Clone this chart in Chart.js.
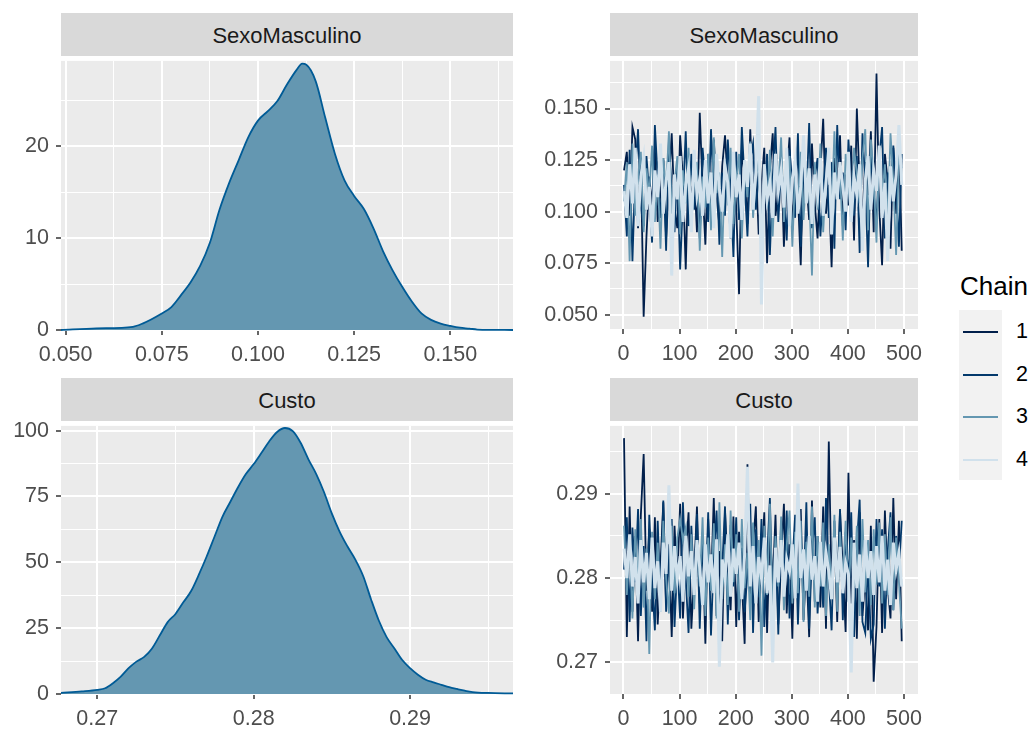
<!DOCTYPE html>
<html>
<head>
<meta charset="utf-8">
<script src="https://cdn.jsdelivr.net/npm/chart.js@4.4.0/dist/chart.umd.min.js"></script>
<style>
  body { margin: 0; background: #fff; width: 1035px; height: 731px; position: relative; overflow: hidden;
         font-family: "Liberation Sans", Arial, sans-serif; }
  canvas { position: absolute; }
  .strip { position: absolute; background: #d9d9d9; color: #1a1a1a; font-size: 22px; text-align: center; z-index: 2; }
  .legTitle { position: absolute; left: 960px; top: 271px; font-size: 26px; color: #000; }
  .legKeys { position: absolute; left: 959px; top: 310px; width: 43px; height: 170px; background: #f2f2f2; }
  .legLine { position: absolute; left: 963px; width: 35px; height: 2px; }
  .legLab { position: absolute; left: 1016px; font-size: 21.5px; color: #000; }
</style>
</head>
<body>
<div class="strip" style="left:61px;top:13px;width:452px;height:43px;line-height:45px;">SexoMasculino</div>
<div class="strip" style="left:610px;top:13px;width:308px;height:43px;line-height:45px;">SexoMasculino</div>
<div class="strip" style="left:61px;top:378px;width:452px;height:43px;line-height:45px;">Custo</div>
<div class="strip" style="left:610px;top:378px;width:308px;height:43px;line-height:45px;">Custo</div>

<canvas id="densSexo" width="520" height="329" style="left:0;top:41px;"></canvas>
<canvas id="traceSexo" width="410" height="328" style="left:530px;top:41px;"></canvas>
<canvas id="densCusto" width="520" height="325" style="left:0;top:406px;"></canvas>
<canvas id="traceCusto" width="410" height="325" style="left:530px;top:406px;"></canvas>

<div class="legTitle">Chain</div>
<div class="legKeys"></div>
<div id="legend"></div>

<script>
// chain colours (bayesplot "blue" scheme)
const chainColors = ["#011f4b", "#03396c", "#6497b1", "#d1e1ec"];
const chainWidths = [1.8, 1.8, 1.8, 3];
const chainNames = ["1", "2", "3", "4"];

// density of SexoMasculino
const sexoDensX = [0.0488, 0.058, 0.0675, 0.070, 0.075, 0.0775, 0.080, 0.0825, 0.085, 0.0875, 0.090, 0.0925,
  0.095, 0.0975, 0.100, 0.1025, 0.105, 0.1075, 0.110, 0.1115, 0.1125, 0.115, 0.1175, 0.120, 0.1225, 0.125,
  0.1275, 0.130, 0.1325, 0.135, 0.1375, 0.140, 0.1425, 0.145, 0.1475, 0.150, 0.1525, 0.155, 0.157, 0.1663];
const sexoDensY = [0, 0.18, 0.35, 0.7, 1.8, 2.5, 3.8, 5.2, 7.0, 9.5, 13.1, 16.0,
  18.5, 21.0, 22.8, 23.8, 24.9, 26.7, 28.3, 29.0, 28.9, 27.1, 23.1, 19.2, 16.3, 14.6,
  13.2, 11.1, 8.6, 6.5, 4.7, 3.1, 1.8, 1.1, 0.7, 0.45, 0.25, 0.15, 0.05, 0];

// density of Custo
const custoDensX = [0.26768, 0.269, 0.270, 0.2705, 0.271, 0.2715, 0.272, 0.2725, 0.273, 0.2735, 0.274, 0.2745,
  0.275, 0.2755, 0.276, 0.2765, 0.277, 0.2775, 0.278, 0.2785, 0.279, 0.2795, 0.280, 0.2805, 0.281, 0.2815,
  0.282, 0.2825, 0.283, 0.2835, 0.284, 0.2845, 0.285, 0.2855, 0.286, 0.2865, 0.287, 0.2875, 0.288, 0.2885,
  0.289, 0.2895, 0.290, 0.2905, 0.291, 0.2915, 0.292, 0.2925, 0.293, 0.2935, 0.294, 0.295, 0.29658];
const custoDensY = [0.4, 1.0, 1.6, 2.2, 4.1, 6.6, 9.8, 12.3, 14.1, 17.3, 22.3, 27.3,
  30.4, 34.8, 39.1, 45.4, 52.3, 59.8, 67.3, 72.9, 78.5, 83.5, 87.3, 91.6, 96.0, 99.5,
  101.0, 99.8, 95.4, 89.1, 83.5, 76.6, 68.5, 61.6, 56.0, 51.0, 44.8, 36.0, 27.9, 21.6,
  17.3, 12.9, 9.8, 7.3, 5.4, 4.4, 3.5, 2.6, 1.9, 1.25, 0.75, 0.4, 0.2];

// trace draws, thinned: one value every 5 iterations
const iterStart = 1;
const iterStep = 5;

const sexoChain1 = [0.120, 0.129, 0.098, 0.141, 0.135, 0.092, 0.124, 0.049, 0.088, 0.117,
  0.103, 0.131, 0.095, 0.109, 0.126, 0.087, 0.113, 0.138, 0.101, 0.092,
  0.137, 0.116, 0.072, 0.124, 0.106, 0.119, 0.090, 0.148, 0.112, 0.084,
  0.128, 0.099, 0.135, 0.108, 0.093, 0.122, 0.137, 0.114, 0.087, 0.126,
  0.102, 0.060, 0.130, 0.118, 0.094, 0.140, 0.107, 0.124, 0.089, 0.113,
  0.131, 0.075, 0.120, 0.138, 0.098, 0.110, 0.127, 0.083, 0.117, 0.136,
  0.091, 0.123, 0.108, 0.074, 0.129, 0.115, 0.096, 0.133, 0.104, 0.087,
  0.120, 0.145, 0.099, 0.113, 0.073, 0.126, 0.110, 0.137, 0.093, 0.118,
  0.103, 0.132, 0.086, 0.150, 0.112, 0.097, 0.124, 0.108, 0.139, 0.090,
  0.167, 0.102, 0.074, 0.128, 0.115, 0.082, 0.131, 0.099, 0.137, 0.081];
const sexoChain2 = [0.113, 0.088, 0.130, 0.076, 0.119, 0.140, 0.102, 0.093, 0.127, 0.108,
  0.085, 0.142, 0.116, 0.097, 0.125, 0.081, 0.134, 0.110, 0.090, 0.122,
  0.072, 0.106, 0.139, 0.093, 0.128, 0.101, 0.117, 0.087, 0.131, 0.114,
  0.095, 0.140, 0.108, 0.123, 0.084, 0.119, 0.098, 0.135, 0.111, 0.078,
  0.129, 0.096, 0.141, 0.114, 0.088, 0.125, 0.133, 0.101, 0.119, 0.092,
  0.106, 0.128, 0.079, 0.116, 0.141, 0.095, 0.122, 0.109, 0.086, 0.130,
  0.113, 0.097, 0.138, 0.083, 0.121, 0.105, 0.143, 0.092, 0.117, 0.126,
  0.088, 0.110, 0.131, 0.097, 0.124, 0.082, 0.142, 0.106, 0.119, 0.091,
  0.135, 0.112, 0.098, 0.127, 0.080, 0.138, 0.115, 0.073, 0.130, 0.109,
  0.095, 0.126, 0.141, 0.087, 0.119, 0.104, 0.132, 0.113, 0.083, 0.128];
const sexoChain3 = [0.105, 0.124, 0.076, 0.133, 0.098, 0.116, 0.129, 0.090, 0.121, 0.108,
  0.132, 0.095, 0.118, 0.082, 0.126, 0.111, 0.139, 0.099, 0.114, 0.127,
  0.089, 0.120, 0.104, 0.131, 0.096, 0.113, 0.124, 0.081, 0.117, 0.102,
  0.128, 0.091, 0.136, 0.109, 0.119, 0.078, 0.125, 0.103, 0.131, 0.094,
  0.115, 0.128, 0.087, 0.121, 0.107, 0.134, 0.097, 0.116, 0.125, 0.092,
  0.119, 0.102, 0.130, 0.088, 0.123, 0.111, 0.136, 0.095, 0.115, 0.127,
  0.083, 0.118, 0.105, 0.129, 0.096, 0.121, 0.110, 0.069, 0.124, 0.101,
  0.133, 0.090, 0.117, 0.126, 0.099, 0.139, 0.108, 0.120, 0.086, 0.128,
  0.112, 0.095, 0.131, 0.118, 0.104, 0.126, 0.140, 0.091, 0.135, 0.117,
  0.085, 0.130, 0.107, 0.123, 0.094, 0.138, 0.115, 0.079, 0.126, 0.121];
const sexoChain4 = [0.110, 0.097, 0.123, 0.104, 0.131, 0.093, 0.117, 0.126, 0.101, 0.112,
  0.088, 0.120, 0.107, 0.133, 0.099, 0.115, 0.124, 0.069, 0.118, 0.106,
  0.127, 0.095, 0.113, 0.121, 0.090, 0.130, 0.108, 0.116, 0.098, 0.125,
  0.104, 0.119, 0.092, 0.128, 0.111, 0.100, 0.122, 0.114, 0.087, 0.129,
  0.107, 0.118, 0.096, 0.125, 0.112, 0.133, 0.101, 0.119, 0.156, 0.055,
  0.123, 0.106, 0.114, 0.097, 0.128, 0.110, 0.120, 0.102, 0.131, 0.093,
  0.116, 0.125, 0.099, 0.112, 0.137, 0.104, 0.121, 0.094, 0.118, 0.108,
  0.126, 0.098, 0.114, 0.131, 0.089, 0.119, 0.106, 0.124, 0.112, 0.100,
  0.129, 0.095, 0.117, 0.108, 0.123, 0.081, 0.115, 0.127, 0.101, 0.120,
  0.110, 0.132, 0.097, 0.114, 0.076, 0.122, 0.105, 0.118, 0.142, 0.113];

const custoChain1 = [0.2966, 0.2730, 0.2885, 0.2760, 0.2850, 0.2725, 0.2875, 0.2947, 0.2785, 0.2858,
  0.2760, 0.2872, 0.2745, 0.2815, 0.2890, 0.2768, 0.2840, 0.2730, 0.2862, 0.2795,
  0.2888, 0.2752, 0.2828, 0.2878, 0.2740, 0.2805, 0.2885, 0.2770, 0.2848, 0.2722,
  0.2870, 0.2790, 0.2895, 0.2755, 0.2832, 0.2725, 0.2880, 0.2810, 0.2762, 0.2873,
  0.2742, 0.2855, 0.2798, 0.2722, 0.2935, 0.2770, 0.2838, 0.2885, 0.2748, 0.2812,
  0.2878, 0.2735, 0.2860, 0.2790, 0.2875, 0.2745, 0.2820, 0.2888, 0.2758, 0.2840,
  0.2728, 0.2868, 0.2800, 0.2882, 0.2750, 0.2818, 0.2730, 0.2892, 0.2772, 0.2850,
  0.2765, 0.2885, 0.2740, 0.2962, 0.2790, 0.2858, 0.2748, 0.2880, 0.2812, 0.2736,
  0.2925, 0.2770, 0.2845, 0.2728, 0.2878, 0.2755, 0.2800, 0.2738, 0.2862, 0.2677,
  0.2742, 0.2870, 0.2735, 0.2880, 0.2790, 0.2752, 0.2895, 0.2775, 0.2868, 0.2725];
const custoChain2 = [0.2810, 0.2872, 0.2748, 0.2860, 0.2795, 0.2882, 0.2755, 0.2838, 0.2725, 0.2875,
  0.2798, 0.2738, 0.2868, 0.2775, 0.2892, 0.2760, 0.2830, 0.2870, 0.2742, 0.2818,
  0.2752, 0.2890, 0.2800, 0.2735, 0.2862, 0.2785, 0.2876, 0.2740, 0.2850, 0.2768,
  0.2878, 0.2732, 0.2826, 0.2880, 0.2758, 0.2812, 0.2885, 0.2745, 0.2863, 0.2790,
  0.2872, 0.2750, 0.2836, 0.2760, 0.2806, 0.2888, 0.2735, 0.2858, 0.2778, 0.2870,
  0.2742, 0.2822, 0.2895, 0.2762, 0.2850, 0.2733, 0.2868, 0.2792, 0.2880, 0.2752,
  0.2815, 0.2875, 0.2745, 0.2852, 0.2780, 0.2890, 0.2740, 0.2830, 0.2872, 0.2758,
  0.2822, 0.2765, 0.2895, 0.2800, 0.2738, 0.2868, 0.2785, 0.2882, 0.2750, 0.2855,
  0.2795, 0.2878, 0.2730, 0.2840, 0.2893, 0.2748, 0.2735, 0.2820, 0.2728, 0.2745,
  0.2870, 0.2790, 0.2858, 0.2740, 0.2832, 0.2878, 0.2762, 0.2850, 0.2808, 0.2868];
const custoChain3 = [0.2862, 0.2780, 0.2845, 0.2752, 0.2858, 0.2790, 0.2870, 0.2765, 0.2835, 0.2710,
  0.2855, 0.2775, 0.2842, 0.2760, 0.2868, 0.2800, 0.2758, 0.2862, 0.2782, 0.2848,
  0.2870, 0.2845, 0.2860, 0.2778, 0.2852, 0.2763, 0.2838, 0.2790, 0.2872, 0.2755,
  0.2848, 0.2785, 0.2865, 0.2752, 0.2890, 0.2775, 0.2840, 0.2768, 0.2880, 0.2795,
  0.2852, 0.2760, 0.2870, 0.2788, 0.2830, 0.2750, 0.2866, 0.2795, 0.2845, 0.2708,
  0.2862, 0.2780, 0.2888, 0.2758, 0.2850, 0.2790, 0.2873, 0.2762, 0.2838, 0.2880,
  0.2770, 0.2855, 0.2782, 0.2868, 0.2748, 0.2843, 0.2778, 0.2885, 0.2765, 0.2850,
  0.2790, 0.2866, 0.2755, 0.2840, 0.2785, 0.2875, 0.2760, 0.2855, 0.2795, 0.2868,
  0.2772, 0.2848, 0.2790, 0.2862, 0.2755, 0.2870, 0.2783, 0.2845, 0.2768, 0.2858,
  0.2792, 0.2866, 0.2770, 0.2852, 0.2780, 0.2872, 0.2762, 0.2848, 0.2795, 0.2740];
const custoChain4 = [0.2835, 0.2800, 0.2852, 0.2790, 0.2825, 0.2770, 0.2845, 0.2795, 0.2830, 0.2775,
  0.2848, 0.2788, 0.2820, 0.2760, 0.2842, 0.2805, 0.2910, 0.2785, 0.2838, 0.2798,
  0.2826, 0.2772, 0.2850, 0.2802, 0.2832, 0.2780, 0.2845, 0.2812, 0.2768, 0.2840,
  0.2795, 0.2828, 0.2782, 0.2846, 0.2695, 0.2822, 0.2800, 0.2852, 0.2778, 0.2835,
  0.2805, 0.2842, 0.2775, 0.2828, 0.2932, 0.2790, 0.2838, 0.2770, 0.2825, 0.2800,
  0.2848, 0.2782, 0.2815, 0.2700, 0.2836, 0.2795, 0.2845, 0.2778, 0.2822, 0.2808,
  0.2840, 0.2776, 0.2912, 0.2800, 0.2834, 0.2785, 0.2850, 0.2798, 0.2826, 0.2772,
  0.2843, 0.2790, 0.2830, 0.2808, 0.2775, 0.2848, 0.2795, 0.2837, 0.2782, 0.2818,
  0.2805, 0.2688, 0.2842, 0.2788, 0.2828, 0.2772, 0.2845, 0.2800, 0.2832, 0.2780,
  0.2838, 0.2795, 0.2850, 0.2785, 0.2822, 0.2768, 0.2842, 0.2810, 0.2830, 0.2790];

// axis ticks (major get labels, minor only grid lines)
const sexoValMajor = [0.050, 0.075, 0.100, 0.125, 0.150];
const sexoValMinor = [0.0625, 0.0875, 0.1125, 0.1375, 0.1625];
const sexoDensMajor = [0, 10, 20];
const sexoDensMinor = [5, 15, 25];
const custoValMajor = [0.27, 0.28, 0.29];
const custoValMinor = [0.275, 0.285, 0.295];
const custoDensMajor = [0, 25, 50, 75, 100];
const custoDensMinor = [12.5, 37.5, 62.5, 87.5];
const iterMajor = [0, 100, 200, 300, 400, 500];
const iterMinor = [50, 150, 250, 350, 450];

const FONT = '"Liberation Sans", Arial, sans-serif';

const panelBg = {
  id: 'panelBg',
  beforeDraw(chart) {
    const a = chart.chartArea, c = chart.ctx;
    c.save();
    c.fillStyle = '#ebebeb';
    c.fillRect(a.left, a.top, a.right - a.left, a.bottom - a.top);
    c.restore();
  }
};

function axis(min, max, major, minor, fmt, isX, size) {
  return {
    type: 'linear', min: min, max: max,
    afterBuildTicks: ax => {
      ax.ticks = major.map(v => ({ value: v, minor: false }))
        .concat(minor.map(v => ({ value: v, minor: true })))
        .sort((a, b) => a.value - b.value);
    },
    afterFit: ax => { if (isX) ax.height = size; else ax.width = size; },
    border: { display: false },
    grid: {
      color: '#ffffff',
      lineWidth: c => (c.tick && c.tick.minor) ? 1 : 2,
      drawTicks: true,
      tickLength: 5,
      tickWidth: 1.5,
      tickColor: c => (c.tick && c.tick.minor) ? 'rgba(0,0,0,0)' : '#333333'
    },
    ticks: {
      autoSkip: false, maxRotation: 0, minRotation: 0, padding: 7,
      color: '#4d4d4d', font: { family: FONT, size: 21.5 },
      callback: (v, i, t) => t[i].minor ? '' : fmt(v)
    }
  };
}

function baseOptions(xAx, yAx, pad) {
  return {
    responsive: false, animation: false, events: [],
    layout: { padding: pad },
    plugins: { legend: { display: false }, tooltip: { enabled: false } },
    scales: { x: xAx, y: yAx }
  };
}

function densityChart(id, xs, ys, xAx, yAx, pad) {
  return new Chart(document.getElementById(id), {
    type: 'line',
    data: {
      datasets: [{
        data: xs.map((x, i) => ({ x: x, y: ys[i] })),
        borderColor: '#005b96',
        backgroundColor: '#6497b1',
        borderWidth: 1.8,
        fill: 'origin',
        pointRadius: 0,
        cubicInterpolationMode: 'monotone',
        clip: 3
      }]
    },
    options: baseOptions(xAx, yAx, pad),
    plugins: [panelBg]
  });
}

function traceChart(id, chains, xAx, yAx, pad) {
  return new Chart(document.getElementById(id), {
    type: 'line',
    data: {
      datasets: chains.map((vals, k) => ({
        label: chainNames[k],
        data: vals.map((y, i) => ({ x: iterStart + i * iterStep, y: y })),
        borderColor: chainColors[k],
        borderWidth: chainWidths[k],
        borderJoinStyle: 'miter',
        pointRadius: 0,
        fill: false,
        order: chains.length - k
      }))
    },
    options: baseOptions(xAx, yAx, pad),
    plugins: [panelBg]
  });
}

const f3 = v => v.toFixed(3);
const f2 = v => v.toFixed(2);
const f0 = v => String(Math.round(v));

densityChart('densSexo', sexoDensX, sexoDensY,
  axis(0.0488, 0.1663, sexoValMajor, sexoValMinor, f3, true, 40),
  axis(0, 29.3, sexoDensMajor, sexoDensMinor, f0, false, 61),
  { top: 15, right: 7, bottom: 0, left: 0 });

traceChart('traceSexo', [sexoChain1, sexoChain2, sexoChain3, sexoChain4],
  axis(-24, 525, iterMajor, iterMinor, f0, true, 40),
  axis(0.0431, 0.1731, sexoValMajor, sexoValMinor, f3, false, 80),
  { top: 15, right: 22, bottom: 0, left: 0 });

densityChart('densCusto', custoDensX, custoDensY,
  axis(0.26768, 0.29658, custoValMajor, custoValMinor, f2, true, 37),
  axis(0, 101.8, custoDensMajor, custoDensMinor, f0, false, 61),
  { top: 15, right: 7, bottom: 0, left: 0 });

traceChart('traceCusto', [custoChain1, custoChain2, custoChain3, custoChain4],
  axis(-24, 525, iterMajor, iterMinor, f0, true, 37),
  axis(0.26625, 0.29805, custoValMajor, custoValMinor, f2, false, 80),
  { top: 15, right: 22, bottom: 0, left: 0 });

// legend keys
const legendTops = [331, 374, 416, 459];
const leg = document.getElementById('legend');
chainNames.forEach((name, k) => {
  const ln = document.createElement('div');
  ln.className = 'legLine';
  ln.style.top = legendTops[k] + 'px';
  ln.style.background = chainColors[k];
  leg.appendChild(ln);
  const lb = document.createElement('div');
  lb.className = 'legLab';
  lb.style.top = (legendTops[k] - 12) + 'px';
  lb.textContent = name;
  leg.appendChild(lb);
});
</script>
</body>
</html>
